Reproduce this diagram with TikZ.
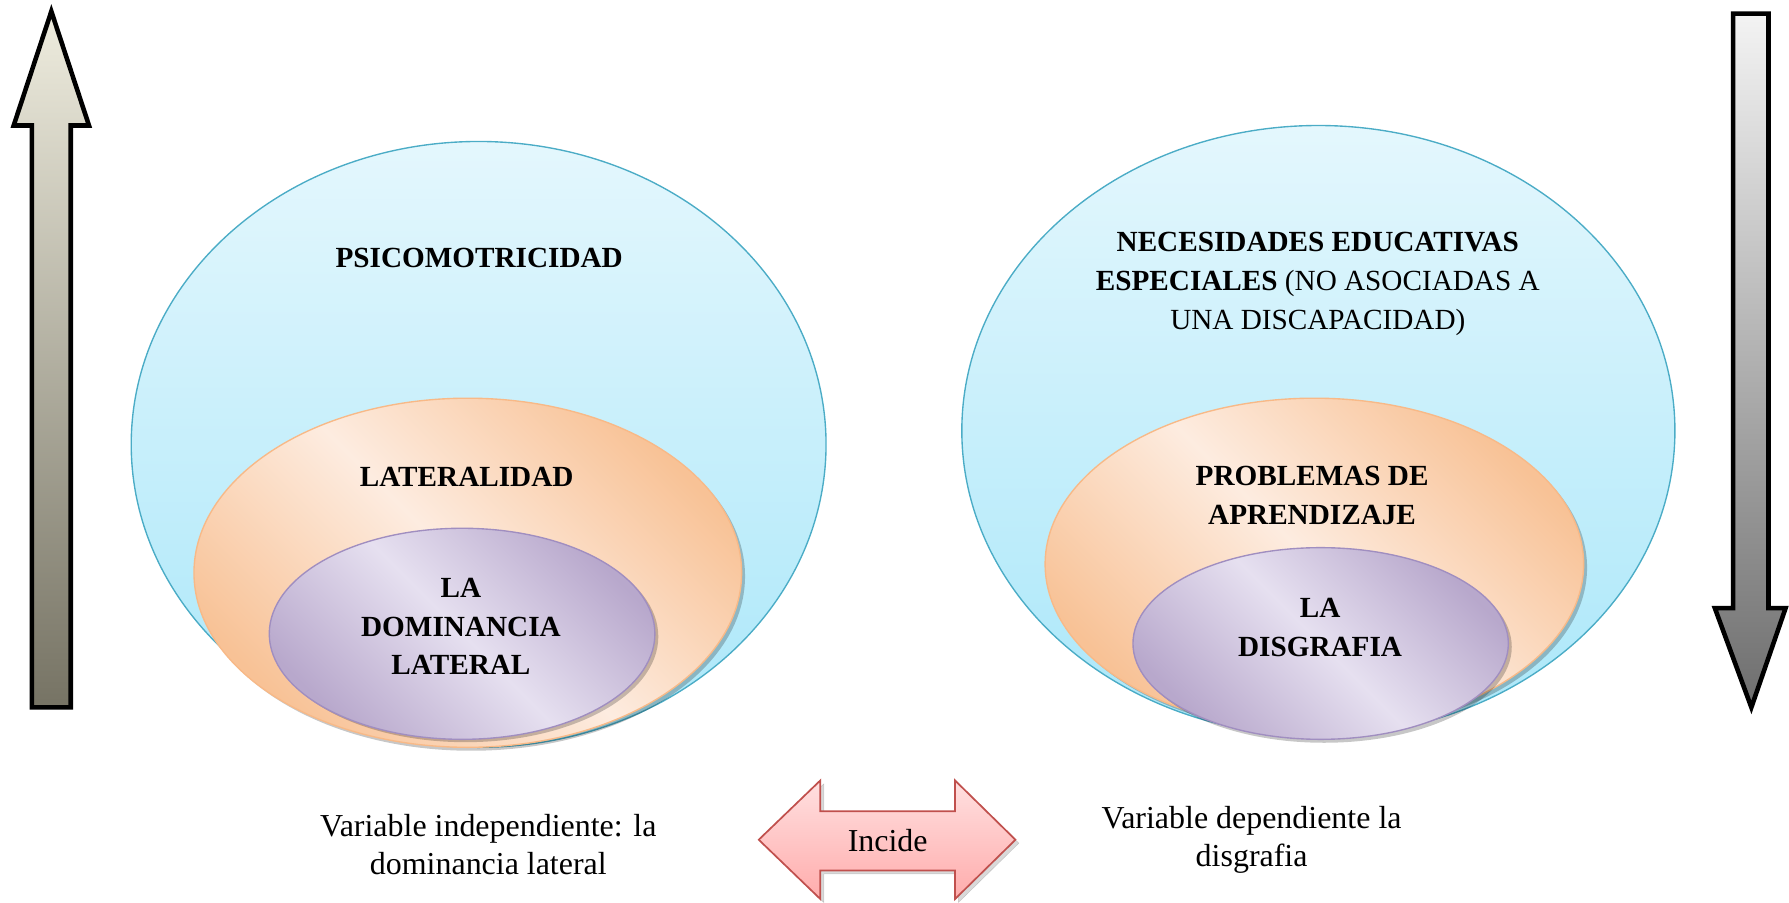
\documentclass[tikz,border=0pt]{standalone}
\usepackage{fontspec}
\setmainfont{Liberation Serif}
\usetikzlibrary{shapes.geometric}
\definecolor{blueTop}{RGB}{228,247,253}
\definecolor{blueBot}{RGB}{170,231,249}
\definecolor{blueLine}{RGB}{75,172,198}
\definecolor{orDark}{RGB}{248,194,150}
\definecolor{orLight}{RGB}{253,236,224}
\definecolor{orLine}{RGB}{248,185,135}
\definecolor{puDark}{RGB}{184,168,204}
\definecolor{puLight}{RGB}{230,224,240}
\definecolor{puLine}{RGB}{160,142,192}
\definecolor{upTop}{RGB}{238,236,222}
\definecolor{upBot}{RGB}{118,115,100}
\definecolor{dnTop}{RGB}{243,243,243}
\definecolor{dnBot}{RGB}{110,110,110}
\definecolor{pkTop}{RGB}{255,224,224}
\definecolor{pkBot}{RGB}{255,172,172}
\definecolor{pkLine}{RGB}{192,80,77}
\tikzset{
  bigell/.style={ellipse, draw=blueLine, line width=1.2pt, top color=blueTop, bottom color=blueBot, inner sep=0pt},
  midell/.style={ellipse, draw=orLine, line width=1.2pt, top color=orDark, bottom color=orDark, middle color=orLight, shading angle=-45, inner sep=0pt},
  smallell/.style={ellipse, draw=puLine, line width=1.2pt, top color=puDark, bottom color=puDark, middle color=puLight, shading angle=-45, inner sep=0pt},
  shadowell/.style={ellipse, fill=black, opacity=0.22, inner sep=0pt},
  boldtxt/.style={font=\fontsize{25.6}{34}\selectfont\bfseries, align=center, inner sep=0pt},
  plaintxt/.style={font=\fontsize{28}{33}\selectfont, align=center, inner sep=0pt},
  bigarrow/.style={draw=black, line width=4pt, line join=miter},
}
\begin{document}
\begin{tikzpicture}[x=1pt,y=-1pt]
\useasboundingbox (0,0) rectangle (1568,791);
% side arrows
\draw[bigarrow, top color=upTop, bottom color=upBot]
  (45,10) -- (78,110) -- (62,110) -- (62,620) -- (28,620) -- (28,110) -- (12,110) -- cycle;
\draw[bigarrow, top color=dnTop, bottom color=dnBot]
  (1519,12) -- (1550,12) -- (1550,533) -- (1565,533) -- (1535,620) -- (1503,533) -- (1519,533) -- cycle;

% left group
\node[bigell, minimum width=609, minimum height=531] (psi) at (419.5,389.5) {};
\node[shadowell, minimum width=480, minimum height=306] (latS) at (413,505) {};
\node[midell, minimum width=480, minimum height=306] (lat) at (410,502) {};
\node[shadowell, minimum width=338, minimum height=185] (domS) at (408,558) {};
\node[smallell, minimum width=338, minimum height=185] (dom) at (405,555.5) {};
\node[boldtxt] (tpsi) at (420,226) {PSICOMOTRICIDAD};
\node[boldtxt] (tlat) at (409,418) {LATERALIDAD};
\node[boldtxt] (tdom) at (404,549) {LA\\DOMINANCIA\\LATERAL};

% right group
\node[bigell, minimum width=625, minimum height=535] (nee) at (1155.5,377.5) {};
\node[shadowell, minimum width=472, minimum height=291] (probS) at (1155,497.5) {};
\node[midell, minimum width=472, minimum height=291] (prob) at (1152,494.5) {};
\node[shadowell, minimum width=329, minimum height=168] (disS) at (1160.5,567) {};
\node[smallell, minimum width=329, minimum height=168] (dis) at (1157.5,564) {};
\node[boldtxt] (tnee) at (1155,249) {NECESIDADES EDUCATIVAS\\ESPECIALES \mdseries(NO ASOCIADAS A\\\mdseries UNA DISCAPACIDAD)};
\node[boldtxt] (tprob) at (1150,434) {PROBLEMAS DE\\APRENDIZAJE};
\node[boldtxt] (tdis) at (1157,550) {LA\\DISGRAFIA};

% double arrow
\draw[fill=black, opacity=0.15] (668,739) -- (722,687) -- (722,714) -- (840,714) -- (840,687) -- (893,739) -- (840,791) -- (840,766) -- (722,766) -- (722,791) -- cycle;
\draw[draw=pkLine, line width=1.5pt, top color=pkTop, bottom color=pkBot, line join=miter]
  (665,736) -- (719,684) -- (719,711) -- (837,711) -- (837,684) -- (890,736) -- (837,788) -- (837,763) -- (719,763) -- (719,788) -- cycle;
\node[plaintxt] (inc) at (778,737) {Incide};

% bottom labels
\node[plaintxt] (vi) at (428,740) {Variable independiente: la\\dominancia lateral};
\node[plaintxt] (vd) at (1097,736) {Variable dependiente la\\disgrafia};
\end{tikzpicture}
\end{document}
